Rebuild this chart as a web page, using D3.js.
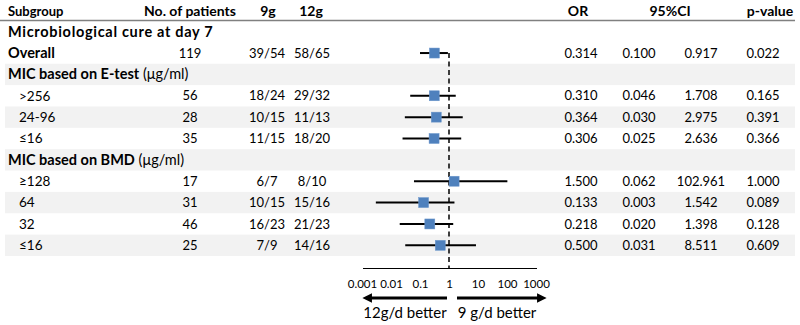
<!DOCTYPE html>
<html>
<head>
<meta charset="utf-8">
<script src="https://cdn.jsdelivr.net/npm/d3@7"></script>
<style>
  body { margin: 0; background: #fff; }
  svg { font-family: Lato, "Open Sans", sans-serif; }
</style>
</head>
<body>
<div id="chart"></div>
<script>
// rows of the table, top to bottom
var labels = ["Microbiological cure at day 7", "Overall", "MIC based on E-test", ">256", "24-96", "\u226416",
              "MIC based on BMD", "\u2265128", "64", "32", "\u226416"];
var kind = ["title", "bold", "section", "item", "item", "item", "section", "item", "item", "item", "item"];
var patients = [null, 119, null, 56, 28, 35, null, 17, 31, 46, 25];
var cure9 = [null, "39/54", null, "18/24", "10/15", "11/15", null, "6/7", "10/15", "16/23", "7/9"];
var cure12 = [null, "58/65", null, "29/32", "11/13", "18/20", null, "8/10", "15/16", "21/23", "14/16"];
var oddsRatio = [null, 0.314, null, 0.310, 0.364, 0.306, null, 1.500, 0.133, 0.218, 0.500];
var ciLow = [null, 0.100, null, 0.046, 0.030, 0.025, null, 0.062, 0.003, 0.020, 0.031];
var ciHigh = [null, 0.917, null, 1.708, 2.975, 2.636, null, 102.961, 1.542, 1.398, 8.511];
var pValue = [null, 0.022, null, 0.165, 0.391, 0.366, null, 1.000, 0.089, 0.128, 0.609];
var axisTicks = [0.001, 0.01, 0.1, 1, 10, 100, 1000];

var width = 800, height = 325;

var svg = d3.select("#chart").append("svg")
    .attr("width", width)
    .attr("height", height);

// row positions
var y = d3.scaleBand().domain(d3.range(labels.length)).range([21, 256]).padding(0);
// log scale for odds ratio
var x = d3.scaleLog().domain([0.001, 1000]).range([362, 536]);

// alternating grey bands
svg.selectAll("rect.band")
    .data(d3.range(labels.length).filter(function(i) { return i >= 2 && i % 2 === 0; }))
    .enter().append("rect")
    .attr("x", 5).attr("width", 790)
    .attr("y", function(i) { return y(i); })
    .attr("height", y.bandwidth())
    .attr("fill", "#f2f2f2");

// header
var headers = [
  {t: "Subgroup", x: 8, a: "start", s: 13},
  {t: "No. of patients", x: 190, a: "middle", s: 14},
  {t: "9g", x: 268, a: "middle", s: 14},
  {t: "12g", x: 311, a: "middle", s: 14},
  {t: "OR", x: 578, a: "middle", s: 14},
  {t: "95%CI", x: 670, a: "middle", s: 14},
  {t: "p-value", x: 770, a: "middle", s: 14}
];
svg.selectAll("text.head")
    .data(headers)
    .enter().append("text")
    .attr("x", function(d) { return d.x; })
    .attr("y", 11)
    .attr("dy", "0.35em")
    .attr("text-anchor", function(d) { return d.a; })
    .style("font-weight", "bold")
    .style("font-size", function(d) { return d.s + "px"; })
    .text(function(d) { return d.t; });

svg.append("line")
    .attr("x1", 0).attr("x2", 795)
    .attr("y1", 20.5).attr("y2", 20.5)
    .attr("stroke", "#808080").attr("stroke-width", 1.5);

var rows = svg.selectAll("g.row")
    .data(d3.range(labels.length))
    .enter().append("g")
    .attr("transform", function(i) { return "translate(0," + (y(i) + y.bandwidth() / 2) + ")"; })
    .style("font-size", "13px");

// subgroup labels
rows.append("text")
    .attr("x", function(i) { return kind[i] === "item" ? 19 : 8; })
    .attr("dy", "0.35em")
    .style("font-weight", function(i) { return kind[i] === "item" ? "normal" : "bold"; })
    .style("font-size", function(i) { return kind[i] === "item" ? "13.5px" : "14.5px"; })
    .style("letter-spacing", function(i) { return kind[i] === "title" ? "0.7px" : null; })
    .each(function(i) {
      var t = d3.select(this).text(labels[i]);
      if (kind[i] === "section") {
        t.append("tspan").style("font-weight", "normal").text(" (\u03bcg/ml)");
      }
    });

function col(arr, xpos, fmt) {
  rows.filter(function(i) { return arr[i] != null; })
    .append("text")
    .attr("x", xpos)
    .attr("dy", "0.35em")
    .attr("text-anchor", "middle")
    .text(function(i) { return fmt ? fmt(arr[i]) : arr[i]; });
}
var f3 = d3.format(".3f");
col(patients, 190);
col(cure9, 267);
col(cure12, 312);
col(oddsRatio, 581, f3);
col(ciLow, 639, f3);
col(ciHigh, 701, f3);
col(pValue, 763, f3);

// reference line at OR = 1
svg.append("line")
    .attr("x1", x(1)).attr("x2", x(1))
    .attr("y1", y(1) + y.bandwidth() / 2).attr("y2", 268)
    .attr("stroke", "#000").attr("stroke-width", 1.5)
    .attr("stroke-dasharray", "5,3.5");

var est = d3.range(labels.length).filter(function(i) { return oddsRatio[i] != null; });

// confidence intervals
svg.selectAll("line.ci")
    .data(est)
    .enter().append("line")
    .attr("x1", function(i) { return x(ciLow[i]); })
    .attr("x2", function(i) { return x(ciHigh[i]); })
    .attr("y1", function(i) { return y(i) + y.bandwidth() / 2; })
    .attr("y2", function(i) { return y(i) + y.bandwidth() / 2; })
    .attr("stroke", "#000").attr("stroke-width", 2);

// point estimates
svg.selectAll("rect.pt")
    .data(est)
    .enter().append("rect")
    .attr("x", function(i) { return x(oddsRatio[i]) - 5; })
    .attr("y", function(i) { return y(i) + y.bandwidth() / 2 - 5; })
    .attr("width", 10).attr("height", 10)
    .attr("fill", "#4f81bd")
    .attr("stroke", "#6d97cc").attr("stroke-width", 0.5);

// axis
var axis = svg.append("g")
    .attr("transform", "translate(0,268)")
    .call(d3.axisBottom(x).tickValues(axisTicks).tickSize(0).tickPadding(12)
      .tickFormat(function(d) { return d >= 1 ? d3.format("d")(d) : String(d); }));
axis.select(".domain").attr("stroke", "#000").attr("stroke-width", 1)
    .attr("d", "M" + (x(0.001) + 1) + ",0.5H" + (x(1000) + 1));
axis.selectAll("text")
    .style("font-family", "Lato, sans-serif")
    .style("font-size", "11.5px")
    .attr("fill", "#000");

// direction arrows
var defs = svg.append("defs");
defs.append("marker")
    .attr("id", "head")
    .attr("viewBox", "0 0 10 10")
    .attr("refX", 1).attr("refY", 5)
    .attr("markerWidth", 3.2).attr("markerHeight", 3.2)
    .attr("orient", "auto")
    .append("path").attr("d", "M0,0L10,5L0,10Z").attr("fill", "#000");

svg.append("line")
    .attr("x1", x(1) - 2).attr("x2", x(0.001) + 9)
    .attr("y1", 298).attr("y2", 298)
    .attr("stroke", "#000").attr("stroke-width", 3)
    .attr("marker-end", "url(#head)");
svg.append("line")
    .attr("x1", x(1) + 8).attr("x2", x(1000) + 2)
    .attr("y1", 298).attr("y2", 298)
    .attr("stroke", "#000").attr("stroke-width", 3)
    .attr("marker-end", "url(#head)");

svg.append("text")
    .attr("x", 405).attr("y", 313).attr("dy", "0.35em")
    .attr("text-anchor", "middle")
    .style("font-size", "15px")
    .text("12g/d better");
svg.append("text")
    .attr("x", 497).attr("y", 313).attr("dy", "0.35em")
    .attr("text-anchor", "middle")
    .style("font-size", "15px")
    .text("9 g/d better");
</script>
</body>
</html>
